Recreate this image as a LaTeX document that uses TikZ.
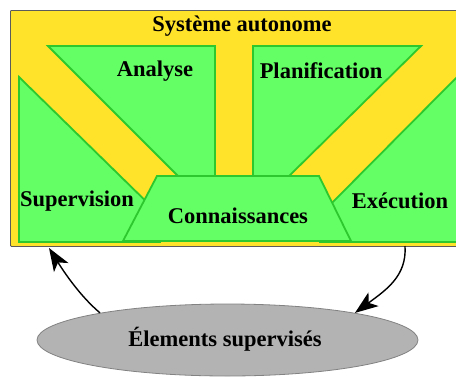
\documentclass[tikz,border=0pt]{standalone}
\usepackage{fontspec}
\setmainfont{Liberation Serif}
\usetikzlibrary{shapes.geometric,arrows.meta}
\definecolor{sysyellow}{RGB}{255,226,42}
\definecolor{boxgreen}{RGB}{100,255,100}
\definecolor{greenline}{RGB}{45,200,45}
\definecolor{ellgray}{RGB}{179,179,179}
\definecolor{ellline}{RGB}{130,130,130}
\tikzset{
  part/.style={fill=boxgreen,draw=greenline,line width=1.8pt,line join=miter},
  lbl/.style={font=\fontsize{22.5}{26}\selectfont\bfseries,inner sep=0pt},
  flow/.style={line width=1.4pt,-{Stealth[length=23pt,width=17pt,inset=6pt]}}
}
\begin{document}
\begin{tikzpicture}[x=1pt,y=-1pt]
\useasboundingbox (0,0) rectangle (456,376);
% outer system box
\node[draw=ellline!70!black,fill=sysyellow,line width=0.8pt,rectangle,rounded corners=1pt,
      minimum width=450pt,minimum height=236pt,anchor=north west,inner sep=0pt] (box) at (10,10) {};
% green parts
\filldraw[part] (19,77) -- (160,215) -- (160,242) -- (19,242) -- cycle;
\filldraw[part] (48,46) -- (215,46) -- (215,180) -- (182,180) -- cycle;
\filldraw[part] (253,46) -- (421,46) -- (285,180) -- (253,180) -- cycle;
\filldraw[part] (459,75) -- (320,215) -- (320,242) -- (459,242) -- cycle;
\filldraw[part] (157,176) -- (319,176) -- (351,241) -- (123,241) -- cycle;
% labels
\node[lbl] (title) at (242,26) {Système autonome};
\node[lbl] (ana) at (155,71) {Analyse};
\node[lbl] (plan) at (321,71) {Planification};
\node[lbl] (sup) at (77,201) {Supervision};
\node[lbl] (conn) at (238,216) {Connaissances};
\node[lbl] (exe) at (400,201) {Exécution};
% managed elements
\node[ellipse,draw=ellline,fill=ellgray,line width=0.8pt,minimum width=381pt,minimum height=72pt,inner sep=0pt] (ell) at (227.5,340) {};
\node[lbl] (eltxt) at (225,339) {Élements supervisés};
% arrows
\coordinate (a1) at (49,248);
\coordinate (a2) at (405,246);
\draw[flow] (ell.168) .. controls (80,296) and (64,272) .. (a1);
\draw[flow] (a2) .. controls (407,276) and (386,290) .. (ell.12);
\end{tikzpicture}
\end{document}
